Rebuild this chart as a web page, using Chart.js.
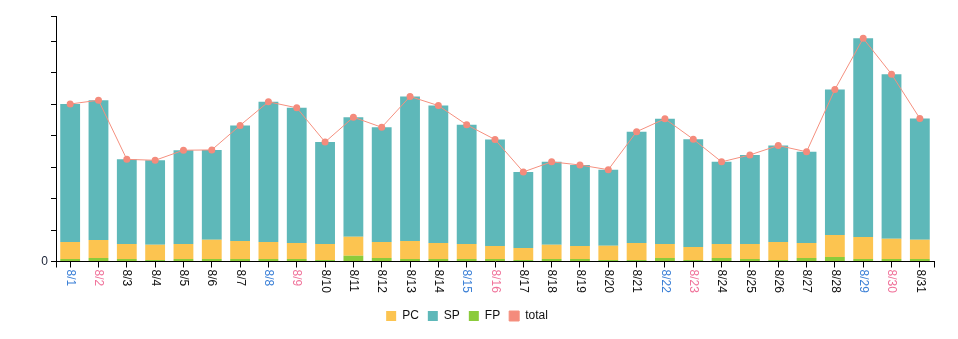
<!DOCTYPE html>
<html lang="en">
<head>
    <meta charset="UTF-8">
    <title>PC / SP / FP - August</title>
    <script src="https://cdn.jsdelivr.net/npm/chart.js"></script>
    <style>
        body { margin: 0; background: #fff; }
    </style>
</head>
<body>

    <canvas id="grafico" width="958" height="339"></canvas>

    <script>
        const giorni = ['8/1','8/2','8/3','8/4','8/5','8/6','8/7','8/8','8/9','8/10',
                        '8/11','8/12','8/13','8/14','8/15','8/16','8/17','8/18','8/19','8/20',
                        '8/21','8/22','8/23','8/24','8/25','8/26','8/27','8/28','8/29','8/30','8/31'];
        const sabati = ['8/1','8/8','8/15','8/22','8/29'];
        const domeniche = ['8/2','8/9','8/16','8/23','8/30'];

        const valoriFP = [8, 11, 8, 5, 8, 8, 8, 8, 8, 5,
                          18, 11, 8, 8, 8, 8, 5, 8, 8, 5,
                          5, 11, 5, 11, 8, 5, 11, 14, 8, 8, 8];
        const valoriPC = [54, 57, 48, 48, 48, 61, 57, 54, 51, 51,
                          61, 51, 57, 51, 48, 41, 38, 45, 41, 45,
                          54, 45, 41, 45, 48, 57, 48, 70, 70, 64, 61];
        const valoriSP = [439, 445, 269, 269, 298, 286, 368, 446, 430, 324,
                          380, 365, 460, 437, 379, 339, 242, 264, 258, 242,
                          354, 398, 343, 261, 283, 307, 290, 463, 632, 524, 386];
        const valoriTotale = [501, 513, 325, 322, 354, 355, 433, 508, 489, 380,
                              459, 427, 525, 496, 435, 388, 285, 317, 307, 292,
                              413, 454, 389, 317, 339, 369, 349, 547, 710, 596, 455];
        const tickY = [0, 100, 200, 300, 400, 500, 600, 700];

        const maxY = Math.max(...valoriTotale) * 1.1;
        const ordineLegenda = ['PC', 'SP', 'FP', 'total'];
        const FONT = '"Liberation Sans", Arial, sans-serif';

        // etichette asse x ruotate in senso orario
        const etichetteX = {
            id: 'etichetteX',
            afterDraw(chart) {
                const xs = chart.scales.x;
                const ctx = chart.ctx;
                ctx.save();
                ctx.font = '12px ' + FONT;
                ctx.textAlign = 'left';
                ctx.textBaseline = 'middle';
                giorni.forEach((g, i) => {
                    const x = xs.getPixelForTick(i);
                    ctx.save();
                    ctx.translate(x, xs.top + 8);
                    ctx.rotate(Math.PI / 2);
                    ctx.fillStyle = sabati.includes(g) ? '#3a7fd6' : (domeniche.includes(g) ? '#f0729a' : '#111');
                    ctx.fillText(g, 0, 0);
                    ctx.restore();
                });
                // tacche alle estremita
                ctx.strokeStyle = '#000';
                ctx.lineWidth = 1;
                [xs.left, xs.right].forEach(x => {
                    const px = Math.round(x) + 0.5;
                    ctx.beginPath();
                    ctx.moveTo(px, xs.top);
                    ctx.lineTo(px, xs.top + 6);
                    ctx.stroke();
                });
                ctx.restore();
            }
        };

        const ctx = document.getElementById('grafico').getContext('2d');
        const chart = new Chart(ctx, {
            type: 'bar',
            data: {
                labels: giorni,
                datasets: [
                    { label: 'FP', data: valoriFP, backgroundColor: '#8bcb3c', borderWidth: 0 },
                    { label: 'PC', data: valoriPC, backgroundColor: '#fcc450', borderWidth: 0 },
                    { label: 'SP', data: valoriSP, backgroundColor: '#5eb8b9', borderWidth: 0 },
                    {
                        label: 'total',
                        type: 'line',
                        data: valoriTotale,
                        stack: 'totale',
                        order: -1,
                        borderColor: '#f5907f',
                        backgroundColor: '#f48b7c',
                        borderWidth: 1,
                        pointRadius: 3.5,
                        pointBackgroundColor: '#f48b7c',
                        pointBorderWidth: 0,
                        tension: 0
                    }
                ]
            },
            options: {
                responsive: false,
                animation: false,
                layout: { padding: { top: 16, right: 24, bottom: 7, left: 0 } },
                datasets: {
                    bar: { categoryPercentage: 0.7, barPercentage: 1.0 }
                },
                scales: {
                    x: {
                        stacked: true,
                        offset: true,
                        grid: { offset: false, drawOnChartArea: false, drawTicks: true, tickLength: 6, color: '#000' },
                        border: { display: true, color: '#000', width: 1 },
                        ticks: { display: false },
                        afterFit: s => { s.height = 39.5; }
                    },
                    y: {
                        stacked: true,
                        min: 0,
                        max: maxY,
                        grid: { drawOnChartArea: false, drawTicks: true, tickLength: 5, color: '#000' },
                        border: { display: true, color: '#000', width: 1 },
                        ticks: {
                            padding: 3,
                            color: '#1a2236',
                            font: { family: FONT, size: 12 },
                            callback: v => (v === 0 ? '0' : '')
                        },
                        afterBuildTicks: s => {
                            s.ticks = tickY.concat([maxY]).map(v => ({ value: v }));
                        },
                        afterFit: s => { s.width = 56; }
                    }
                },
                plugins: {
                    legend: {
                        position: 'bottom',
                        labels: {
                            boxWidth: 10,
                            boxHeight: 10,
                            padding: 9,
                            color: '#111',
                            font: { family: FONT, size: 12 },
                            sort: (a, b) => ordineLegenda.indexOf(a.text) - ordineLegenda.indexOf(b.text)
                        }
                    },
                    tooltip: { enabled: false }
                }
            },
            plugins: [etichetteX]
        });
    </script>

</body>
</html>
